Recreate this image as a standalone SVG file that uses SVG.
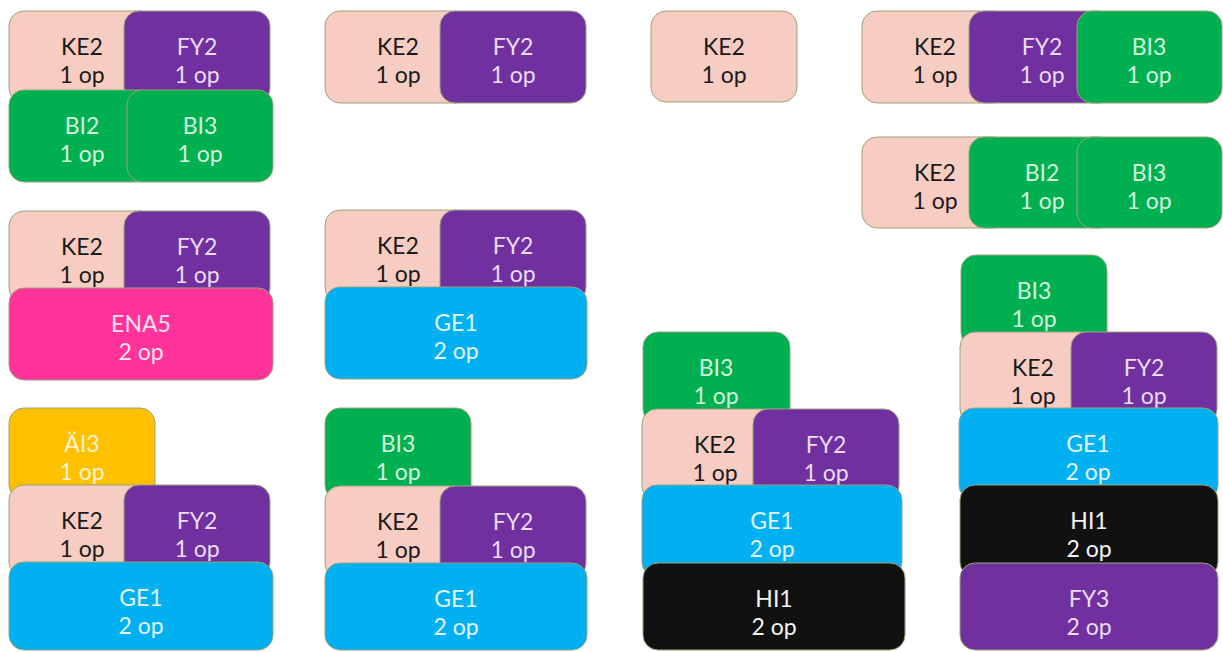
<svg xmlns="http://www.w3.org/2000/svg" width="1223" height="652" viewBox="0 0 1223 652">
  <style>
    .t rect { stroke: #9ba27a; stroke-width: 1; }
    text { font-family: Lato, "Open Sans", "Liberation Sans", sans-serif; font-size: 23px; text-anchor: middle; }
    .ke { fill: #f7cdc3; }
    .fy { fill: #7030a0; }
    .bi { fill: #00b050; }
    .ge { fill: #00b0f0; }
    .en { fill: #ff3399; }
    .ai { fill: #ffc000; }
    .hi { fill: #111111; }
    .tke { fill: #1a1a1a; }
    .tfy { fill: #ecdcf4; }
    .tbi { fill: #d4f4de; }
    .tge { fill: #e2f5fd; }
    .ten { fill: #ffe0ef; }
    .tai { fill: #fff4cf; }
    .thi { fill: #f4f4f4; }
  </style>
  <rect width="1223" height="652" fill="#ffffff"/>

  <!-- column 1 -->
  <g id="set1" class="t">
    <g id="set1-ke2"><rect class="ke" x="9" y="11" width="146" height="92" rx="15"/><text class="tke" x="82" y="55">KE2</text><text class="tke" x="82" y="83">1 op</text></g>
    <g id="set1-fy2"><rect class="fy" x="124" y="11" width="146" height="92" rx="15"/><text class="tfy" x="197" y="55">FY2</text><text class="tfy" x="197" y="83">1 op</text></g>
    <g id="set1-bi2"><rect class="bi" x="9" y="90" width="146" height="92" rx="15"/><text class="tbi" x="82" y="134">BI2</text><text class="tbi" x="82" y="162">1 op</text></g>
    <g id="set1-bi3"><rect class="bi" x="127" y="90" width="146" height="92" rx="15"/><text class="tbi" x="200" y="134">BI3</text><text class="tbi" x="200" y="162">1 op</text></g>
  </g>
  <g id="set2" class="t">
    <g id="set2-ke2"><rect class="ke" x="9" y="211" width="146" height="92" rx="15"/><text class="tke" x="82" y="255">KE2</text><text class="tke" x="82" y="283">1 op</text></g>
    <g id="set2-fy2"><rect class="fy" x="124" y="211" width="146" height="92" rx="15"/><text class="tfy" x="197" y="255">FY2</text><text class="tfy" x="197" y="283">1 op</text></g>
    <g id="set2-ena5"><rect class="en" x="9" y="288" width="264" height="92" rx="15"/><text class="ten" x="141" y="332">ENA5</text><text class="ten" x="141" y="360">2 op</text></g>
  </g>
  <g id="set3" class="t">
    <g id="set3-ai3"><rect class="ai" x="9" y="408" width="146" height="92" rx="15"/><text class="tai" x="82" y="452">ÄI3</text><text class="tai" x="82" y="480">1 op</text></g>
    <g id="set3-ke2"><rect class="ke" x="9" y="485" width="146" height="92" rx="15"/><text class="tke" x="82" y="529">KE2</text><text class="tke" x="82" y="557">1 op</text></g>
    <g id="set3-fy2"><rect class="fy" x="124" y="485" width="146" height="92" rx="15"/><text class="tfy" x="197" y="529">FY2</text><text class="tfy" x="197" y="557">1 op</text></g>
    <g id="set3-ge1"><rect class="ge" x="9" y="562" width="264" height="88" rx="15"/><text class="tge" x="141" y="606">GE1</text><text class="tge" x="141" y="634">2 op</text></g>
  </g>

  <!-- column 2 -->
  <g id="set4" class="t">
    <g id="set4-ke2"><rect class="ke" x="325" y="11" width="146" height="92" rx="15"/><text class="tke" x="398" y="55">KE2</text><text class="tke" x="398" y="83">1 op</text></g>
    <g id="set4-fy2"><rect class="fy" x="440" y="11" width="146" height="92" rx="15"/><text class="tfy" x="513" y="55">FY2</text><text class="tfy" x="513" y="83">1 op</text></g>
  </g>
  <g id="set5" class="t">
    <g id="set5-ke2"><rect class="ke" x="325" y="210" width="146" height="92" rx="15"/><text class="tke" x="398" y="254">KE2</text><text class="tke" x="398" y="282">1 op</text></g>
    <g id="set5-fy2"><rect class="fy" x="440" y="210" width="146" height="92" rx="15"/><text class="tfy" x="513" y="254">FY2</text><text class="tfy" x="513" y="282">1 op</text></g>
    <g id="set5-ge1"><rect class="ge" x="325" y="287" width="262" height="92" rx="15"/><text class="tge" x="456" y="331">GE1</text><text class="tge" x="456" y="359">2 op</text></g>
  </g>
  <g id="set6" class="t">
    <g id="set6-bi3"><rect class="bi" x="325" y="408" width="146" height="92" rx="15"/><text class="tbi" x="398" y="452">BI3</text><text class="tbi" x="398" y="480">1 op</text></g>
    <g id="set6-ke2"><rect class="ke" x="325" y="486" width="146" height="92" rx="15"/><text class="tke" x="398" y="530">KE2</text><text class="tke" x="398" y="558">1 op</text></g>
    <g id="set6-fy2"><rect class="fy" x="440" y="486" width="146" height="92" rx="15"/><text class="tfy" x="513" y="530">FY2</text><text class="tfy" x="513" y="558">1 op</text></g>
    <g id="set6-ge1"><rect class="ge" x="325" y="563" width="262" height="87" rx="15"/><text class="tge" x="456" y="607">GE1</text><text class="tge" x="456" y="635">2 op</text></g>
  </g>

  <!-- column 3 -->
  <g id="set7" class="t">
    <g id="set7-ke2"><rect class="ke" x="651" y="11" width="146" height="91" rx="15"/><text class="tke" x="724" y="55">KE2</text><text class="tke" x="724" y="83">1 op</text></g>
  </g>
  <g id="set8" class="t">
    <g id="set8-bi3"><rect class="bi" x="643" y="332" width="147" height="92" rx="15"/><text class="tbi" x="716" y="376">BI3</text><text class="tbi" x="716" y="404">1 op</text></g>
    <g id="set8-ke2"><rect class="ke" x="642" y="409" width="146" height="92" rx="15"/><text class="tke" x="715" y="453">KE2</text><text class="tke" x="715" y="481">1 op</text></g>
    <g id="set8-fy2"><rect class="fy" x="753" y="409" width="146" height="92" rx="15"/><text class="tfy" x="826" y="453">FY2</text><text class="tfy" x="826" y="481">1 op</text></g>
    <g id="set8-ge1"><rect class="ge" x="642" y="485" width="260" height="92" rx="15"/><text class="tge" x="772" y="529">GE1</text><text class="tge" x="772" y="557">2 op</text></g>
    <g id="set8-hi1"><rect class="hi" x="643" y="563" width="262" height="87" rx="15"/><text class="thi" x="774" y="607">HI1</text><text class="thi" x="774" y="635">2 op</text></g>
  </g>

  <!-- column 4 -->
  <g id="set9" class="t">
    <g id="set9-ke2"><rect class="ke" x="862" y="11" width="146" height="92" rx="15"/><text class="tke" x="935" y="55">KE2</text><text class="tke" x="935" y="83">1 op</text></g>
    <g id="set9-fy2"><rect class="fy" x="969" y="11" width="146" height="92" rx="15"/><text class="tfy" x="1042" y="55">FY2</text><text class="tfy" x="1042" y="83">1 op</text></g>
    <g id="set9-bi3"><rect class="bi" x="1077" y="11" width="145" height="92" rx="15"/><text class="tbi" x="1149" y="55">BI3</text><text class="tbi" x="1149" y="83">1 op</text></g>
  </g>
  <g id="set10" class="t">
    <g id="set10-ke2"><rect class="ke" x="862" y="137" width="146" height="91" rx="15"/><text class="tke" x="935" y="181">KE2</text><text class="tke" x="935" y="209">1 op</text></g>
    <g id="set10-bi2"><rect class="bi" x="969" y="137" width="146" height="91" rx="15"/><text class="tbi" x="1042" y="181">BI2</text><text class="tbi" x="1042" y="209">1 op</text></g>
    <g id="set10-bi3"><rect class="bi" x="1077" y="137" width="145" height="91" rx="15"/><text class="tbi" x="1149" y="181">BI3</text><text class="tbi" x="1149" y="209">1 op</text></g>
  </g>
  <g id="set11" class="t">
    <g id="set11-bi3"><rect class="bi" x="961" y="255" width="146" height="92" rx="15"/><text class="tbi" x="1034" y="299">BI3</text><text class="tbi" x="1034" y="327">1 op</text></g>
    <g id="set11-ke2"><rect class="ke" x="960" y="332" width="146" height="92" rx="15"/><text class="tke" x="1033" y="376">KE2</text><text class="tke" x="1033" y="404">1 op</text></g>
    <g id="set11-fy2"><rect class="fy" x="1071" y="332" width="146" height="92" rx="15"/><text class="tfy" x="1144" y="376">FY2</text><text class="tfy" x="1144" y="404">1 op</text></g>
    <g id="set11-ge1"><rect class="ge" x="959" y="408" width="259" height="92" rx="15"/><text class="tge" x="1088" y="452">GE1</text><text class="tge" x="1088" y="480">2 op</text></g>
    <g id="set11-hi1"><rect class="hi" x="960" y="485" width="258" height="92" rx="15"/><text class="thi" x="1089" y="529">HI1</text><text class="thi" x="1089" y="557">2 op</text></g>
    <g id="set11-fy3"><rect class="fy" x="960" y="563" width="258" height="87" rx="15"/><text class="tfy" x="1089" y="607">FY3</text><text class="tfy" x="1089" y="635">2 op</text></g>
  </g>

  <!-- no connectors in this layout -->
  <g id="connectors"/>
</svg>
